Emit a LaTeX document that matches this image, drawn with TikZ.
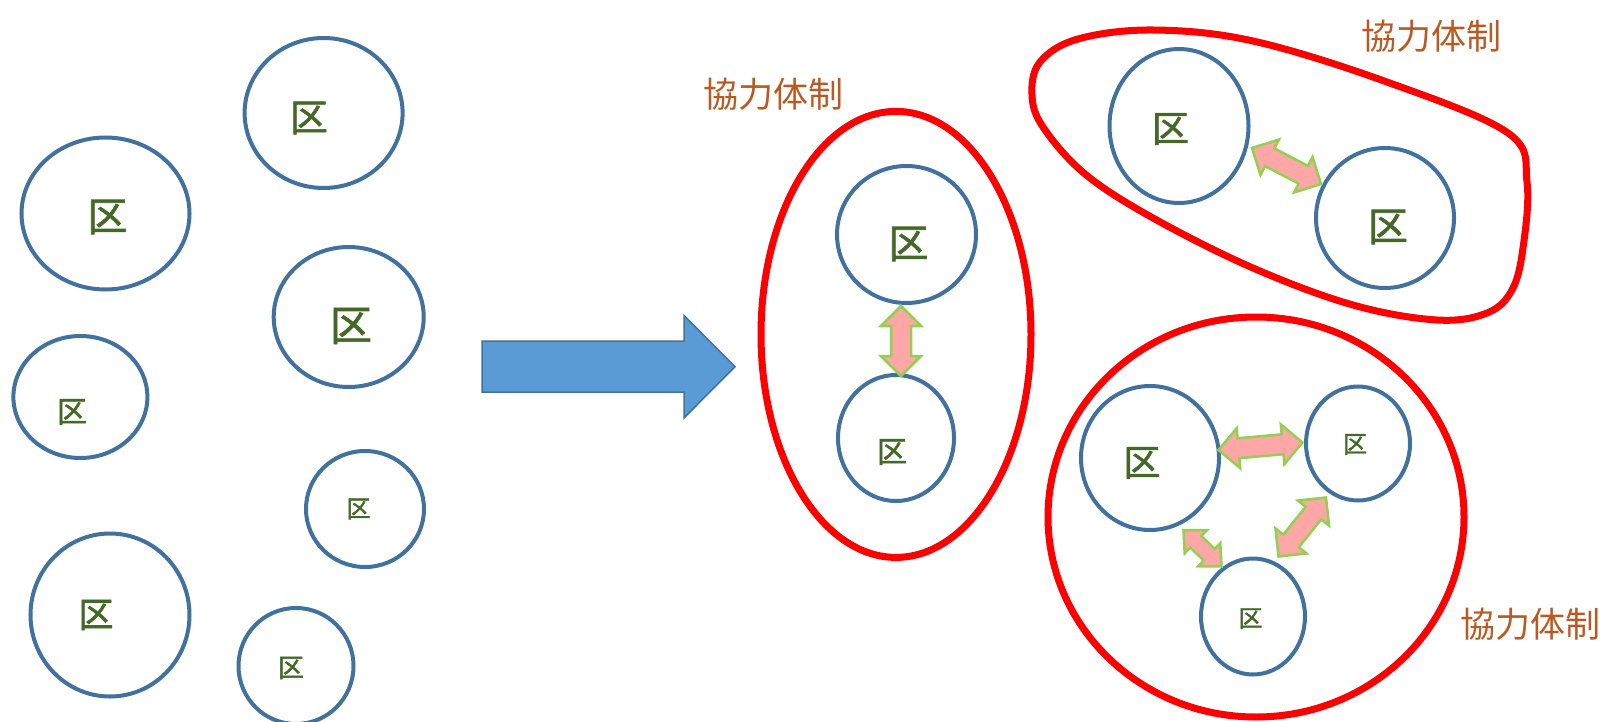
\documentclass[tikz,border=0pt]{standalone}
\usepackage{fontspec}
\newfontfamily\jpfont{Noto Sans CJK JP}
\newfontfamily\kufont{Noto Sans CJK JP}[FakeBold=1.6]
\usetikzlibrary{shapes.geometric,calc}

\definecolor{ringblue}{HTML}{41719C}
\definecolor{arrowblue}{HTML}{5B9BD5}
\definecolor{kugreen}{RGB}{68,104,40}
\definecolor{labelbrown}{RGB}{184,90,36}
\definecolor{linkpink}{HTML}{FFA7A7}
\definecolor{linkgreen}{HTML}{92D050}
\definecolor{groupred}{HTML}{FF0000}

\tikzset{
  ward/.style 2 args={ellipse, draw=ringblue, line width=4pt, inner sep=0pt,
    minimum width=#1, minimum height=#2},
  ku/.style={font={\kufont\fontsize{#1}{#1}\selectfont}, text=kugreen, inner sep=0pt},
  grouplabel/.style={font={\jpfont\fontsize{35}{35}\selectfont}, text=labelbrown, inner sep=0pt},
  group/.style={draw=groupred, line width=7pt},
  link/.style={fill=linkpink, draw=linkgreen, line width=2.5pt, line join=miter},
  bigarrow/.style={fill=arrowblue, draw=ringblue, line width=1.5pt},
}

% double-headed link arrow between two named points
% #1 from, #2 to, #3 head length, #4 head half width, #5 shaft half width
\newcommand\linkarrow[5]{%
  \coordinate (ha) at ($(#1)!#3!(#2)$);
  \coordinate (hb) at ($(#2)!#3!(#1)$);
  \draw[link] (#1) -- ($(ha)!#4!90:(#2)$) -- ($(ha)!#5!90:(#2)$)
    -- ($(hb)!#5!-90:(#1)$) -- ($(hb)!#4!-90:(#1)$) -- (#2)
    -- ($(hb)!#4!90:(#1)$) -- ($(hb)!#5!90:(#1)$)
    -- ($(ha)!#5!-90:(#2)$) -- ($(ha)!#4!-90:(#2)$) -- cycle;
}

\begin{document}
\begin{tikzpicture}[x=1pt, y=-1pt]
\useasboundingbox (0,0) rectangle (1606,722);

% ---- separate wards ----
\node[ward={158pt}{150pt}] (w1) at (323.6,113) {};
\node[ward={168pt}{152pt}] (w2) at (105.5,213.5) {};
\node[ward={150pt}{140pt}] (w3) at (348.7,317) {};
\node[ward={134pt}{122pt}] (w4) at (80.4,397) {};
\node[ward={118pt}{116pt}] (w5) at (365,509) {};
\node[ward={159pt}{163pt}] (w6) at (110,615) {};
\node[ward={115pt}{116pt}] (w7) at (296,666) {};

\node[ku=38] (t1) at (309,118) {区};
\node[ku=40] (t2) at (107.5,217) {区};
\node[ku=42] (t3) at (351,326) {区};
\node[ku=30] (t4) at (72,412) {区};
\node[ku=24] (t5) at (358.5,509) {区};
\node[ku=35] (t6) at (96,615) {区};
\node[ku=26] (t7) at (291,668) {区};

% ---- transition arrow ----
\draw[bigarrow] (482,341) -- (684,341) -- (684,315.5) -- (735,366.7)
  -- (684,418) -- (684,392) -- (482,392) -- cycle;

% ---- group of two (vertical) ----
\draw[group] (896,334.4) ellipse[x radius=135, y radius=223];
\node[grouplabel] (g1) at (773,94) {協力体制};
\node[ward={139pt}{137pt}] (m1) at (906.5,234.5) {};
\node[ward={116pt}{126pt}] (m2) at (896,438) {};
\node[ku=40] (mt1) at (908.5,244) {区};
\node[ku=30] (mt2) at (892,452) {区};
\coordinate (ma) at (901,306);
\coordinate (mb) at (901,376);
\linkarrow{ma}{mb}{20pt}{20pt}{10pt}

% ---- group of two (diagonal) ----
\draw[group] plot[smooth cycle, tension=0.6] coordinates {
  (1040,62) (1078,39) (1153,30) (1253,41) (1387,82) (1508,133)
  (1527,182) (1523,248) (1512,290) (1487,313) (1437,320) (1353,305)
  (1253,268) (1153,218) (1085,174) (1043,127) (1032,95)};
\node[grouplabel] (g2) at (1431,36) {協力体制};
\node[ward={139pt}{154pt}] (r1) at (1179,126) {};
\node[ward={138pt}{140pt}] (r2) at (1385,218) {};
\node[ku=37] (rt1) at (1170.5,129) {区};
\node[ku=40] (rt2) at (1388,227) {区};
\coordinate (ra) at (1252,148);
\coordinate (rb) at (1321,184);
\linkarrow{ra}{rb}{20pt}{20pt}{10pt}

% ---- group of three ----
\draw[group] (1256,517) ellipse[x radius=208, y radius=200];
\node[grouplabel] (g3) at (1530,624) {協力体制};
\node[ward={138pt}{144pt}] (b1) at (1150,458) {};
\node[ward={104pt}{114pt}] (b2) at (1358,443.5) {};
\node[ward={104pt}{116pt}] (b3) at (1253,616.5) {};
\node[ku=37] (bt1) at (1142,463) {区};
\node[ku=24] (bt2) at (1355,444.5) {区};
\node[ku=24] (bt3) at (1250.5,618.6) {区};
\coordinate (ba) at (1218.5,450);
\coordinate (bb) at (1302.5,442.5);
\coordinate (bc) at (1326,497.5);
\coordinate (bd) at (1278.5,556.5);
\coordinate (be) at (1183.5,530);
\coordinate (bf) at (1221.5,566.5);
\linkarrow{ba}{bb}{20pt}{20pt}{10pt}
\linkarrow{bc}{bd}{20pt}{20pt}{10pt}
\linkarrow{be}{bf}{17pt}{16pt}{8pt}
\end{tikzpicture}
\end{document}
